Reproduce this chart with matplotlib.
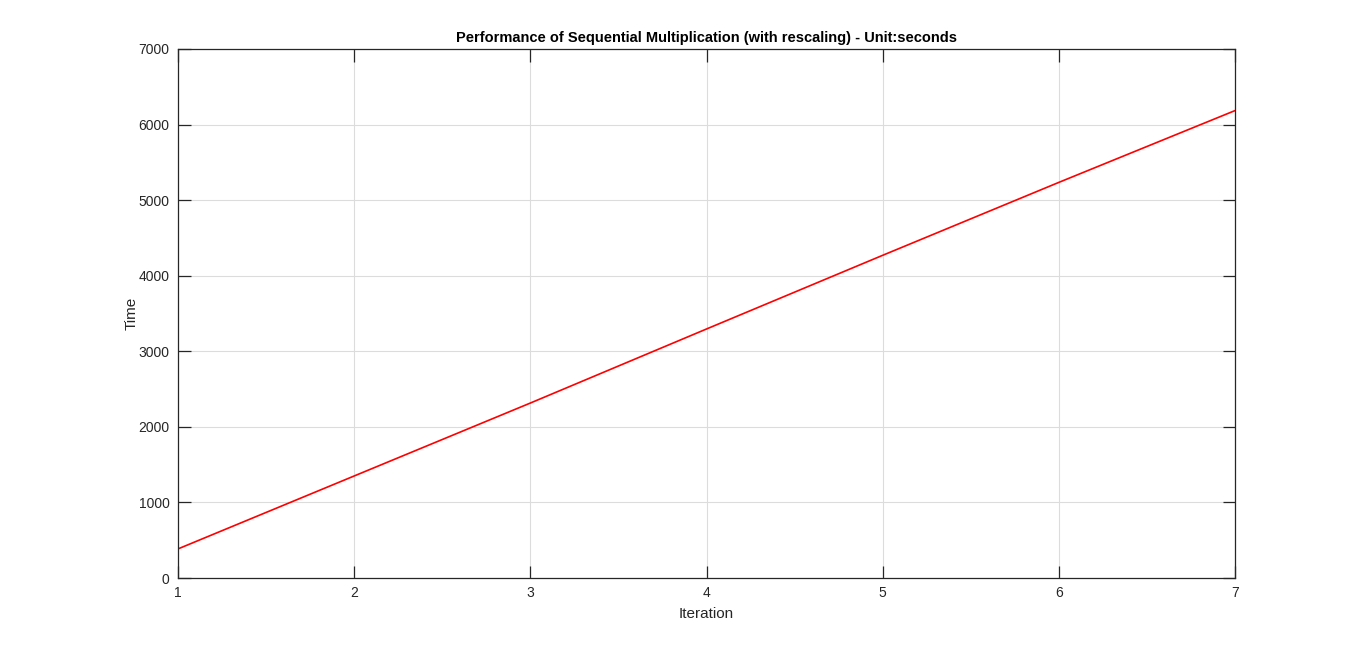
import matplotlib
matplotlib.use("Agg")
import matplotlib.pyplot as plt

iterations = [1, 2, 3, 4, 5, 6, 7]
times = [385, 1350, 2315, 3295, 4270, 5235, 6185]
x_ticks = [1, 2, 3, 4, 5, 6, 7]
y_ticks = [0, 1000, 2000, 3000, 4000, 5000, 6000, 7000]

plt.rcParams['font.family'] = ['Liberation Sans', 'DejaVu Sans']

fig = plt.figure(figsize=(13.66, 6.51), dpi=100)
ax = fig.add_axes([178/1366, 73/651, (1235-178)/1366, (578-49)/651])

ax.plot(iterations, times, color='#ff0000', linewidth=1.2)
ax.set_xlim(1, 7)
ax.set_ylim(0, 7000)
ax.set_xticks(x_ticks)
ax.set_yticks(y_ticks)
ax.grid(True, color='#dcdcdc', linewidth=0.8)
ax.set_axisbelow(True)

dark = '#262626'
for s in ax.spines.values():
    s.set_color(dark)
    s.set_linewidth(0.9)
ax.tick_params(direction='in', length=9, width=0.9, color=dark, labelcolor=dark,
               labelsize=10, top=True, right=True, pad=6)

ax.set_xlabel('Iteration', fontsize=11, color=dark, labelpad=5)
ax.set_ylabel('Time', fontsize=11, color=dark, labelpad=0)
ax.set_title('Performance of Sequential Multiplication (with rescaling) - Unit:seconds',
             fontsize=10.5, fontweight='bold', color='black', pad=5)

fig.savefig('out.png', dpi=100)
